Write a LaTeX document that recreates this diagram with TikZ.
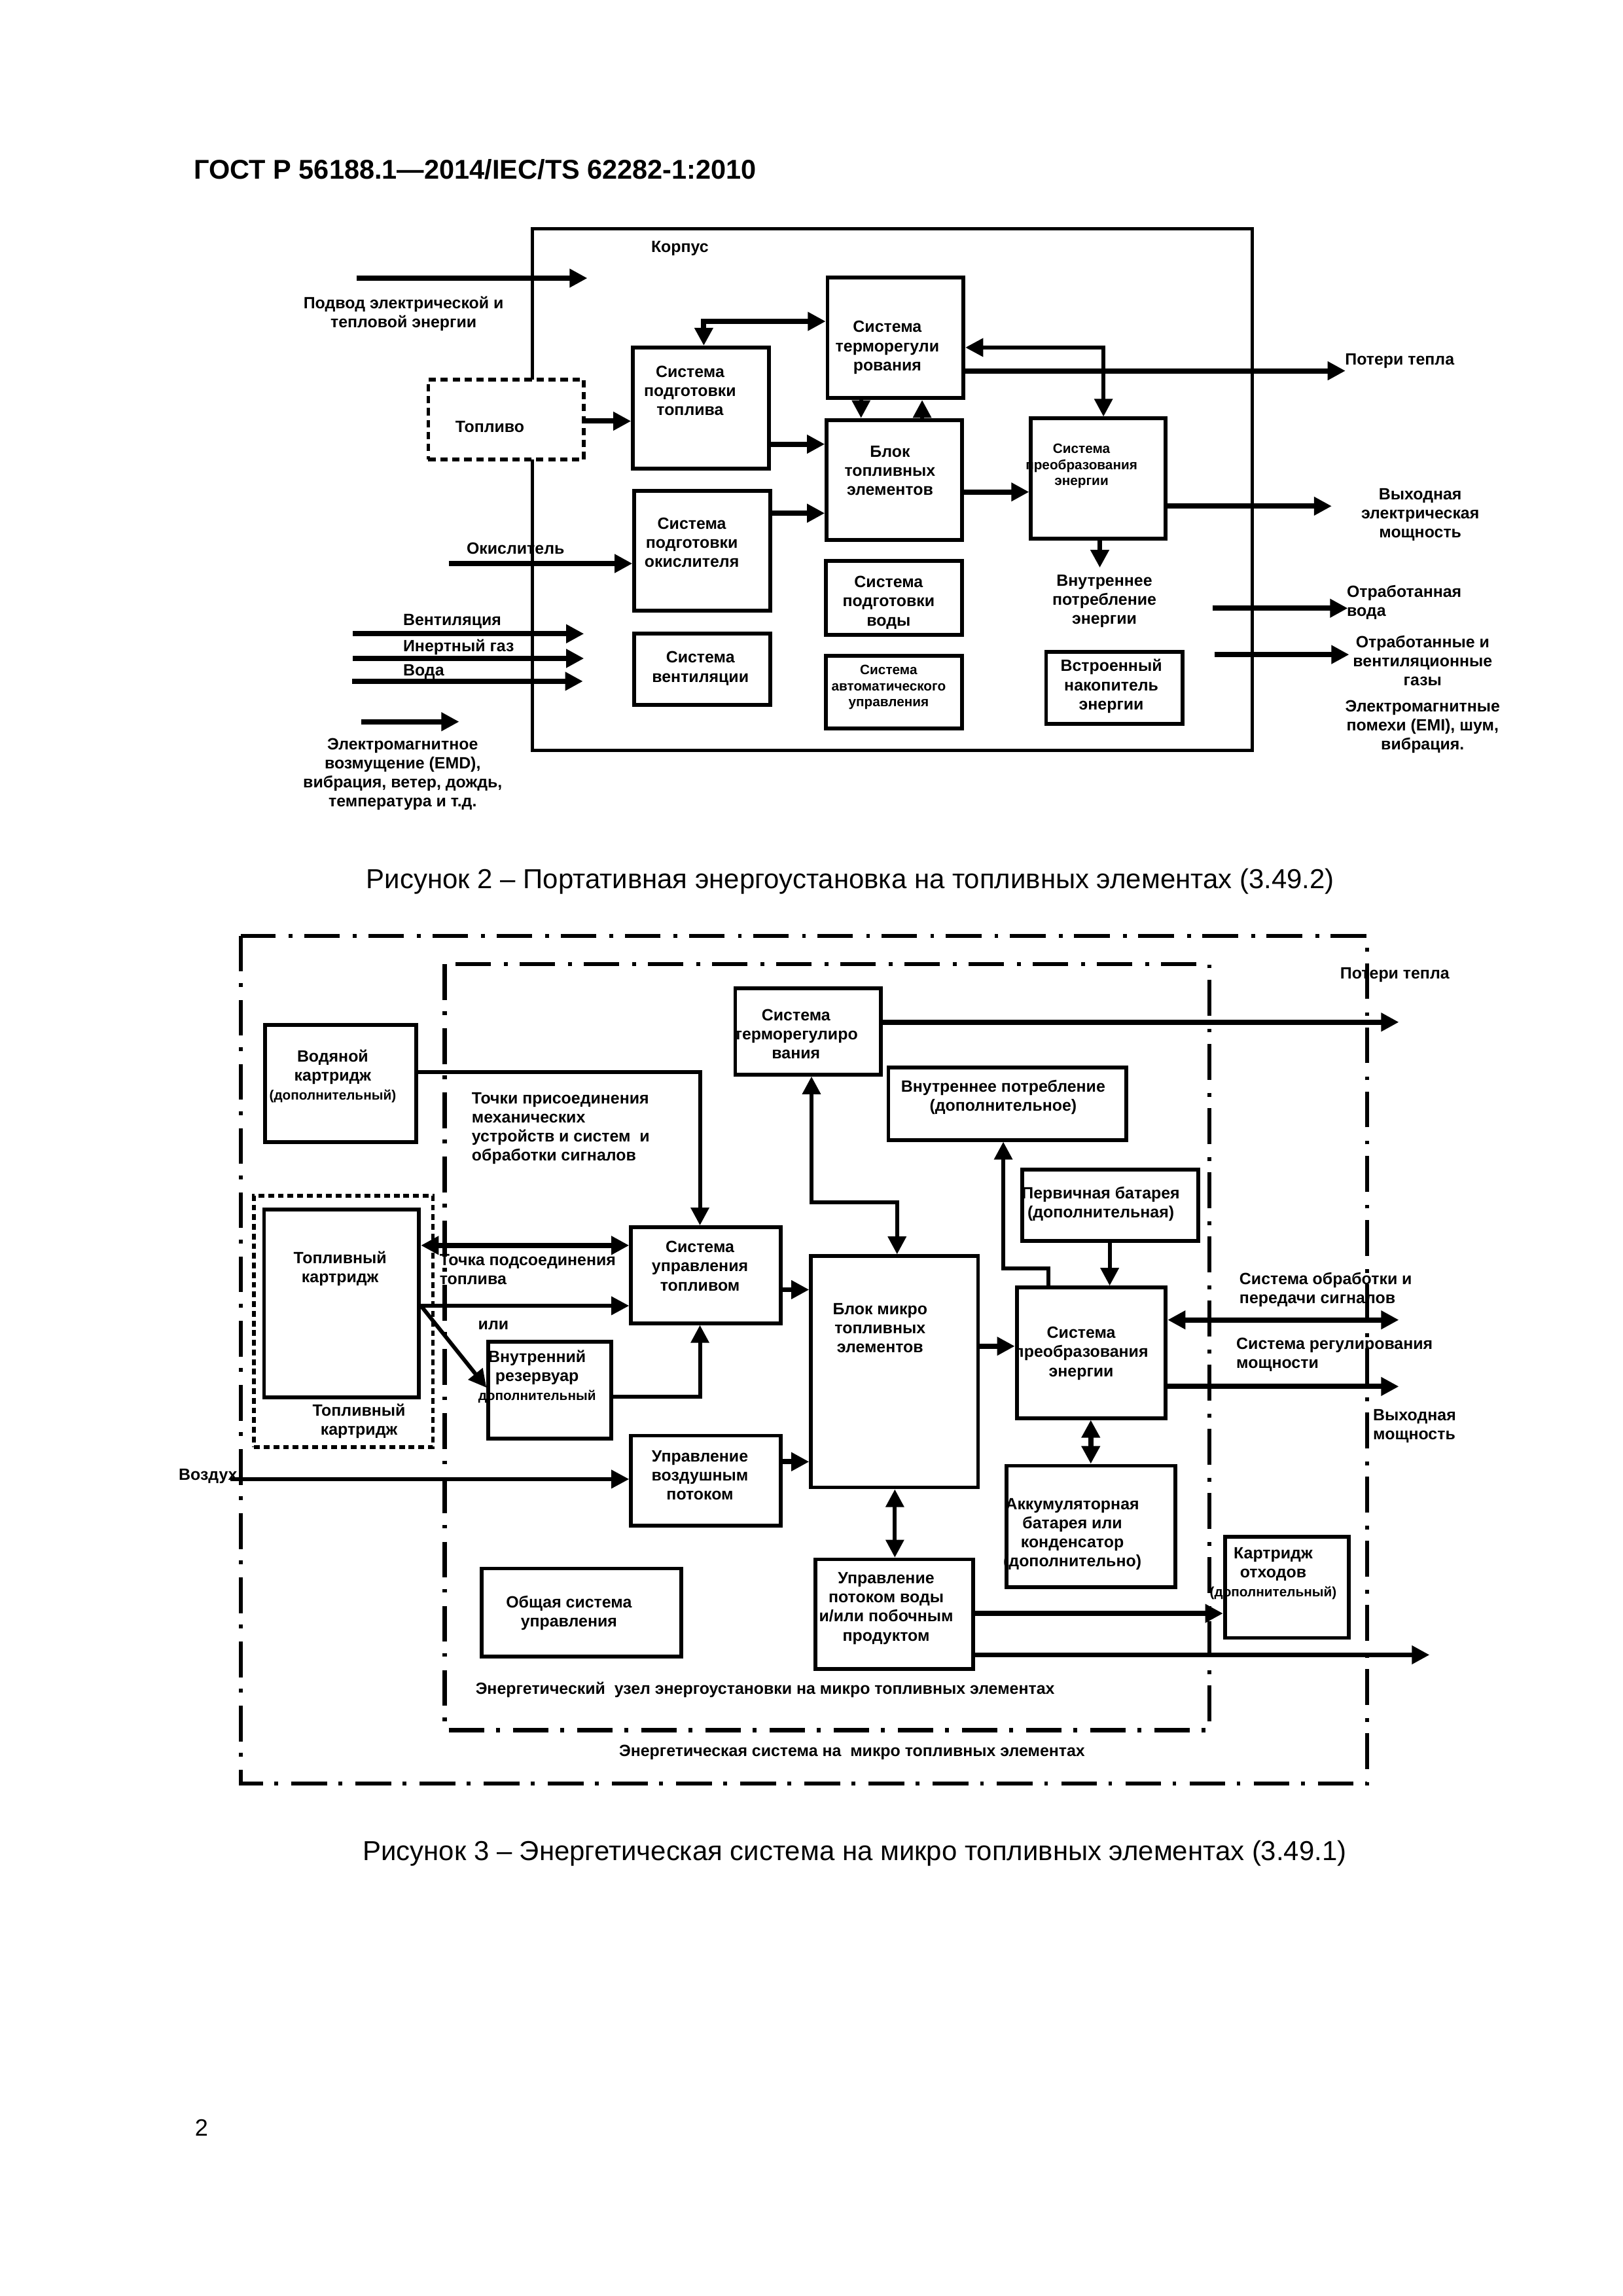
\documentclass[tikz,border=0pt]{standalone}
\usepackage{fontspec}
\setmainfont{Liberation Sans}
\usetikzlibrary{arrows.meta,fit}
\tikzset{
  lb/.style={font=\fontsize{6}{7}\selectfont\bfseries, align=center, inner sep=0pt},
  lbw/.style={lb, align=left, anchor=west},
  sm/.style={font=\fontsize{5}{6}\selectfont\bfseries, align=center, inner sep=0pt},
  bx/.style={draw, line width=1.4pt, inner sep=0pt},
  dotb/.style={draw, line width=1.4pt, dash pattern=on 0.95mm off 0.6mm, fill=white, inner sep=0pt},
  dotc/.style={draw, line width=1.4pt, dash pattern=on 0.75mm off 0.5mm, inner sep=0pt},
  ha/.style={line width=1.9pt, ->},
  hb/.style={line width=1.9pt, <->},
  ma/.style={line width=1.45pt, ->},
  mb/.style={line width=1.45pt, <->},
  framel/.style={line width=1.5pt, dash pattern=on 4.6mm off 1.5mm on 0.5mm off 1.7mm},
}
\begin{document}
\begin{tikzpicture}[x=0.190909mm, y=-0.190909mm, >={Triangle[length=2.3mm,width=2.3mm]}]
\fill[white] (0,0) rectangle (1100,1556);
\useasboundingbox (0,0) rectangle (1100,1556);

% ---------- header, captions, page number ----------
\node[anchor=base west, inner sep=0pt, font=\fontsize{10}{12}\selectfont\bfseries] (hdr) at (131.2,121.2) {ГОСТ Р 56188.1—2014/IEC/TS 62282-1:2010};
\node[anchor=base west, inner sep=0pt, font=\fontsize{10.1}{12}\selectfont] (cap2) at (248,602) {Рисунок 2 – Портативная энергоустановка на топливных элементах (3.49.2)};
\node[anchor=base west, inner sep=0pt, font=\fontsize{10.1}{12}\selectfont] (cap3) at (245.5,1260.8) {Рисунок 3 – Энергетическая система на микро топливных элементах (3.49.1)};
\node[anchor=base west, inner sep=0pt, font=\fontsize{8.7}{11}\selectfont] (pgn) at (131.7,1447.7) {2};

% ================= FIGURE 2 =================
\node[bx, line width=1.2pt, fit={(361,155.2)(848.7,508.7)}] (korp) {};
\node[lb] (korpl) at (460.8,168.3) {Корпус};

\coordinate (podvS) at (241.6,188.5);
\coordinate (podvE) at (398.1,188.5);
\draw[ha] (podvS) -- (podvE);
\node[lb] (podvl) at (273.5,212.5) {Подвод электрической и\\тепловой энергии};

\node[dotb, fit={(290.3,257.3)(395.8,311.3)}] (topl) {};
\node[lb] (topll) at (332,289.3) {Топливо};

\node[bx, fit={(429,235.5)(521.1,317.6)}] (spt) {};
\node[lb] (sptl) at (467.7,264.7) {Система\\подготовки\\топлива};

\node[bx, fit={(560.9,188.2)(653,269.8)}] (term) {};
\node[lb] (terml) at (601.4,235.5) {Система\\терморегули\\рования};

\node[bx, fit={(560.3,284.6)(652.1,365.9)}] (blok) {};
\node[lb] (blokl) at (603.2,318.9) {Блок\\топливных\\элементов};

\node[bx, fit={(429.9,332.7)(522.2,414)}] (spo) {};
\node[lb] (spol) at (468.9,367.5) {Система\\подготовки\\окислителя};

\node[bx, fit={(429.9,429.2)(522.2,477.6)}] (sv) {};
\node[lb] (svl) at (474.7,453) {Система\\вентиляции};

\node[bx, fit={(698.75,283.6)(789.9,365.2)}] (preo) {};
\node[sm] (preol) at (733,315.8) {Система\\преобразования\\энергии};

\node[bx, fit={(559.6,380.3)(652.1,430.3)}] (spv) {};
\node[lb] (spvl) at (602.3,408.4) {Система\\подготовки\\воды};

\node[bx, fit={(559.6,444.6)(652.1,493.8)}] (sau) {};
\node[sm] (saul) at (602.3,465.7) {Система\\автоматического\\управления};

\node[bx, fit={(709,441.8)(801.4,490.6)}] (vne) {};
\node[lb] (vnel) at (753.2,465) {Встроенный\\накопитель\\энергии};

% connectors fig 2
\draw[ha] (topl.east |- 0,285.4) -- (spt.west |- 0,285.4);
\draw[hb] (spt.north -| 477,0) |- (term.west |- 0,217.8);
\draw[ma] (term.south -| 583.6,0) -- (blok.north -| 583.6,0);
\draw[ma] (blok.north -| 625,0) -- (term.south -| 625,0);
\draw[ha] (spt.east |- 0,301) -- (blok.west |- 0,301);
\draw[ha] (spo.east |- 0,347.8) -- (blok.west |- 0,347.8);
\draw[ha] (blok.east |- 0,333.4) -- (preo.west |- 0,333.4);
\draw[mb] (term.east |- 0,235.5) -| (preo.north -| 747.9,0);

\coordinate (okS) at (304.2,381.9);
\draw[ha] (okS) -- (spo.west |- okS);
\node[lb] (okl) at (349.4,371.8) {Окислитель};

\coordinate (venS) at (239.2,429.5);
\coordinate (venE) at (395.8,429.5);
\draw[ha] (venS) -- (venE);
\node[lbw] (venl) at (272.9,421.1) {Вентиляция};
\coordinate (inS) at (239.2,446.2);
\coordinate (inE) at (395.8,446.2);
\draw[ha] (inS) -- (inE);
\node[lbw] (inl) at (272.9,438.8) {Инертный газ};
\coordinate (vdS) at (238.8,461.7);
\coordinate (vdE) at (395.1,461.7);
\draw[ha] (vdS) -- (vdE);
\node[lbw] (vdl) at (272.9,455.4) {Вода};

\coordinate (emdS) at (245,489.1);
\coordinate (emdE) at (311.2,489.1);
\draw[ha] (emdS) -- (emdE);
\node[lb] (emdl) at (272.9,524.6) {Электромагнитное\\возмущение (EMD),\\вибрация, ветер, дождь,\\температура и т.д.};

\coordinate (ptE) at (911.9,251.3);
\draw[ha] (term.east |- ptE) -- (ptE);
\node[lbw] (ptl) at (911.3,244.7) {Потери тепла};

\coordinate (vyE) at (902.6,343);
\draw[ha] (preo.east |- vyE) -- (vyE);
\node[lb] (vyl) at (962.6,348.7) {Выходная\\электрическая\\мощность};

\coordinate (vnE) at (745.4,384.7);
\draw[ha] (preo.south -| vnE) -- (vnE);
\node[lb] (vnl) at (748.5,407.3) {Внутреннее\\потребление\\энергии};

\coordinate (owS) at (821.7,412.2);
\coordinate (owE) at (913.5,412.2);
\draw[ha] (owS) -- (owE);
\node[lbw] (owl) at (912.5,408.3) {Отработанная\\вода};

\coordinate (gzS) at (823.2,443.6);
\coordinate (gzE) at (914.4,443.6);
\draw[ha] (gzS) -- (gzE);
\node[lb] (gzl) at (964.2,447.7) {Отработанные и\\вентиляционные\\газы};

\node[lb] (emil) at (964.2,492.7) {Электромагнитные\\помехи (EMI), шум,\\вибрация.};

% ================= FIGURE 3 =================
\draw[framel] (163.2,634.3) rectangle (926.7,1208.7);
\draw[framel] (301.4,653.5) rectangle (819.8,1172.5);

\node[bx, fit={(179.6,694.5)(282.1,774)}] (wat) {};
\node[lb] (watl) at (225.5,729.4) {Водяной\\картридж\\{\fontsize{5}{6}\selectfont(дополнительный)}};

\node[lbw] (tochl) at (319.4,764.6) {Точки присоединения\\механических\\устройств и систем\ \ и\\обработки сигналов};

\node[dotc, fit={(172.2,810.2)(293.4,980.7)}] (cartd) {};
\node[bx, fit={(179,819.8)(284,947)}] (cart) {};
\node[lb] (cartl) at (230.5,859.7) {Топливный\\картридж};
\node[lb] (cartdl) at (243.3,963.1) {Топливный\\картридж};

\node[bx, fit={(427.7,831.7)(529,896.7)}] (sut) {};
\node[lb] (sutl) at (474.4,858) {Система\\управления\\топливом};

\node[bx, fit={(331,909.3)(414.4,975.1)}] (res) {};
\node[lb] (resl) at (364,933) {Внутренний\\резервуар\\{\fontsize{5}{6}\selectfont дополнительный}};

\node[bx, fit={(427.7,972.9)(529,1033.8)}] (uvp) {};
\node[lb] (uvpl) at (474.4,999.9) {Управление\\воздушным\\потоком};

\node[bx, fit={(549.7,851.3)(662.9,1008)}] (mblok) {};
\node[lb] (mblokl) at (596.5,899.9) {Блок микро\\топливных\\элементов};

\node[bx, fit={(498.3,669.8)(597,728.2)}] (mterm) {};
\node[lb] (mterml) at (539.5,700.8) {Система\\терморегулиро\\вания};

\node[bx, fit={(602.1,723.4)(763.4,772.5)}] (vnp) {};
\node[lb] (vnpl) at (679.9,743.5) {Внутреннее потребление\\(дополнительное)};

\node[bx, fit={(692.7,792.5)(812.1,841)}] (perv) {};
\node[lb] (pervl) at (746.1,815.8) {Первичная батарея\\(дополнительная)};

\node[bx, fit={(689.1,872.6)(790.1,961)}] (mpre) {};
\node[lb] (mprel) at (732.8,917.2) {Система\\преобразования\\энергии};

\node[bx, fit={(682.3,993.3)(796.6,1075.6)}] (akk) {};
\node[lb] (akkl) at (726.8,1039.7) {Аккумуляторная\\батарея или\\конденсатор\\(дополнительно)};

\node[bx, fit={(552.5,1056.8)(659.4,1131)}] (upv) {};
\node[lb] (upvl) at (600.6,1090) {Управление\\потоком воды\\и/или побочным\\продуктом};

\node[bx, fit={(830.2,1041.6)(914,1110)}] (otx) {};
\node[lb] (otxl) at (862.9,1066.3) {Картридж\\отходов\\{\fontsize{5}{6}\selectfont(дополнительный)}};

\node[bx, fit={(326.6,1063)(461.8,1122.6)}] (obsh) {};
\node[lb] (obshl) at (385.6,1093.3) {Общая система\\управления};

\node[lbw] (uzl) at (322,1145.1) {Энергетический\ \ узел энергоустановки на микро топливных элементах};
\node[lbw] (sysl) at (419.3,1187.5) {Энергетическая система на\ \ микро топливных элементах};

% connectors fig 3
\draw[ma] (wat.east |- 0,726.7) -| (sut.north -| 474.4,0);
\draw[hb] (cart.east |- 0,844) -- (sut.west |- 0,844);
\node[lbw] (tpl) at (297.6,860.5) {Точка подсоединения\\топлива};
\draw[ma] (cart.east |- 0,884.9) -- (sut.west |- 0,884.9);
\draw[ma] (cart.east |- 0,884.9) -- (res.west |- 0,940.4);
\node[lb] (ilil) at (334.4,898.2) {или};
\draw[ma] (res.east |- 0,946.6) -| (sut.south -| 474.4,0);

\coordinate (airS) at (156.2,1002.4);
\draw[ma] (airS) -- (uvp.west |- airS);
\node[lbw] (airl) at (120.8,1000.5) {Воздух};

\draw[ha] (sut.east |- 0,874) -- (mblok.west |- 0,874);
\draw[ha] (uvp.east |- 0,990.6) -- (mblok.west |- 0,990.6);
\draw[mb] (mterm.south -| 550,0) -- (550,814.7) -| (mblok.north -| 608,0);

\coordinate (ptE3) at (948.1,692.7);
\draw[ha] (mterm.east |- ptE3) -- (ptE3);
\node[lbw] (pt3l) at (908,660.6) {Потери тепла};

\draw[ma] (mpre.north -| 710.5,0) |- (680,859.8) -- (vnp.south -| 680,0);
\draw[ma] (perv.south -| 752.1,0) -- (mpre.north -| 752.1,0);
\draw[ha] (mblok.east |- 0,912.3) -- (mpre.west |- 0,912.3);

\coordinate (sigE) at (948.1,894.5);
\draw[hb] (mpre.east |- sigE) -- (sigE);
\node[lbw] (sigl) at (839.7,873.8) {Система обработки и\\передачи сигналов};
\node[lbw] (regl) at (837.6,918) {Система регулирования\\мощности};

\coordinate (outE) at (948.1,939.6);
\draw[ha] (mpre.east |- outE) -- (outE);
\node[lbw] (outl) at (930.3,966.6) {Выходная\\мощность};

\draw[hb] (mpre.south -| 739.3,0) -- (akk.north -| 739.3,0);
\draw[mb] (mblok.south -| 606.5,0) -- (upv.north -| 606.5,0);
\draw[ha] (upv.east |- 0,1093.4) -- (otx.west |- 0,1093.4);
\coordinate (out2E) at (968.9,1121.5);
\draw[ha] (upv.east |- out2E) -- (out2E);
\end{tikzpicture}
\end{document}
